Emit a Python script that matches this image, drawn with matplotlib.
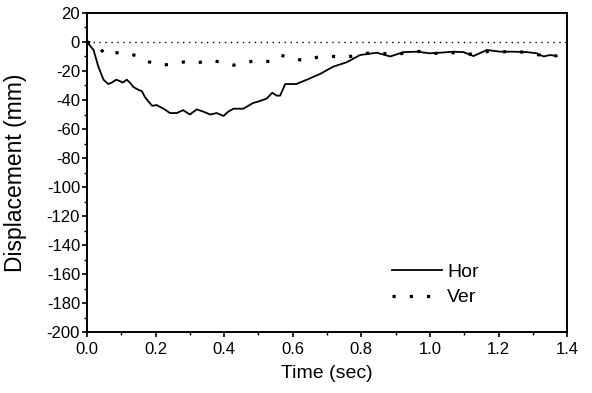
import matplotlib
matplotlib.use("Agg")
import matplotlib.pyplot as plt
from matplotlib.ticker import MultipleLocator

# Horizontal displacement (solid)
t_hor = [0.0, 0.019, 0.033, 0.048, 0.062, 0.072, 0.085, 0.096, 0.104, 0.116,
         0.125, 0.135, 0.15, 0.16, 0.169, 0.179, 0.19, 0.203, 0.223, 0.242,
         0.262, 0.28, 0.30, 0.32, 0.339, 0.359, 0.378, 0.398, 0.412, 0.427,
         0.456, 0.47, 0.485, 0.50, 0.524, 0.54, 0.553, 0.563, 0.578, 0.61,
         0.641, 0.68, 0.718, 0.757, 0.796, 0.845, 0.884, 0.923, 0.962, 1.0,
         1.03, 1.068, 1.098, 1.127, 1.166, 1.205, 1.243, 1.283, 1.312, 1.331,
         1.35, 1.37]
d_hor = [0, -5.5, -17, -26, -29, -28, -26, -27, -28, -26,
         -28, -31, -33, -34, -38, -41, -44, -43.5, -46, -49,
         -49, -47, -50, -46.5, -48, -50, -49, -51, -48, -46,
         -46, -44, -42, -41, -39, -35, -37, -37, -29, -29,
         -26, -22, -17, -14, -9, -7.4, -10, -7, -6.7, -7.8,
         -7.4, -6.7, -7, -9.7, -5.5, -6.7, -6.7, -7, -7.8, -10,
         -9, -9.7]

# Vertical displacement (dotted)
t_ver = [0.0, 0.033, 0.052, 0.087, 0.116, 0.145, 0.179, 0.213, 0.247, 0.286,
         0.32, 0.354, 0.393, 0.427, 0.461, 0.50, 0.534, 0.563, 0.597, 0.636,
         0.67, 0.709, 0.743, 0.777, 0.816, 0.855, 0.89, 0.93, 0.97, 1.01,
         1.05, 1.09, 1.13, 1.17, 1.21, 1.25, 1.29, 1.33, 1.37]
d_ver = [0, -2, -9, -7.4, -7.4, -9.7, -13.6, -16, -15.4, -13.6,
         -14.7, -12.4, -14, -16, -14.3, -12.4, -13.6, -9, -11.3, -12.9,
         -10.6, -9.7, -10.6, -9.7, -7.8, -7.4, -9, -7.5, -6.5, -8,
         -7, -8, -8.5, -6.5, -6.8, -6.5, -7.5, -9.5, -9.5]

xticks = [0.0, 0.2, 0.4, 0.6, 0.8, 1.0, 1.2, 1.4]
yticks = list(range(-200, 21, 20))

plt.rcParams["font.family"] = ["Liberation Sans", "DejaVu Sans"]

fig = plt.figure(figsize=(5.92, 3.93), dpi=100)
ax = fig.add_axes([0.147, 0.155, 0.811, 0.812])

ax.axhline(0, color="black", linewidth=1.0, linestyle=(0, (1, 3.3)), zorder=1)
ax.plot(t_hor, d_hor, color="black", linewidth=1.3, label="Hor", zorder=3)
ax.plot(t_ver, d_ver, color="black", linewidth=2.3, linestyle=(0, (1.0, 4.4)),
        dash_capstyle="butt", label="Ver", zorder=2)

ax.set_xlim(0, 1.4)
ax.set_ylim(-200, 20)
ax.set_xticks(xticks)
ax.set_xticklabels([f"{v:.1f}" for v in xticks])
ax.set_yticks(yticks)
ax.set_yticklabels([str(v) for v in yticks])
ax.xaxis.set_minor_locator(MultipleLocator(0.1))
ax.yaxis.set_minor_locator(MultipleLocator(10))
ax.tick_params(which="major", direction="out", length=3.5, width=1.2, labelsize=12)
ax.tick_params(which="minor", direction="out", length=2.2, width=1.0)
ax.tick_params(axis="y", which="major", pad=1.5)
for s in ax.spines.values():
    s.set_linewidth(1.4)

ax.set_xlabel("Time (sec)", fontsize=14, labelpad=6)
ax.set_ylabel("Displacement (mm)", fontsize=16.5, labelpad=14)

ax.legend(loc="upper left", bbox_to_anchor=(0.635, 0.215), frameon=False,
          fontsize=14, handlelength=2.6, handletextpad=0.25, labelspacing=0.4,
          borderpad=0, borderaxespad=0)

fig.savefig("out.png", dpi=100)
